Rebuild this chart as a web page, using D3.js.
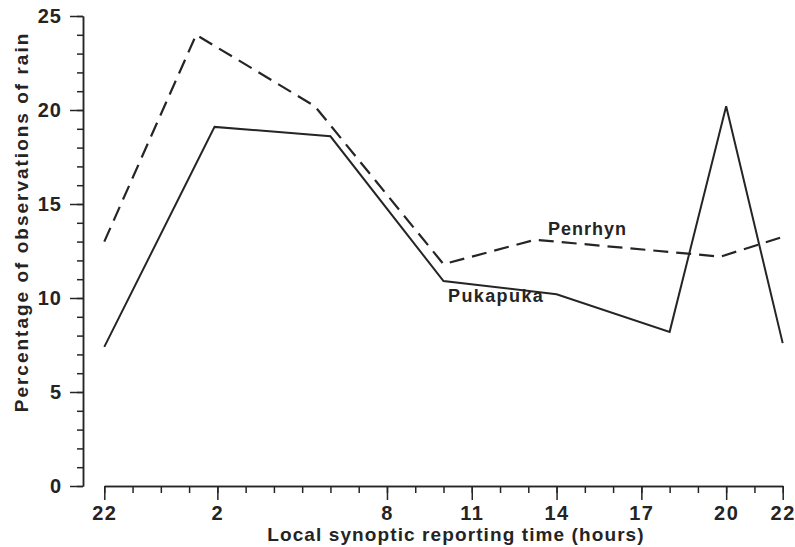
<!DOCTYPE html>
<html>
<head>
<meta charset="utf-8">
<script src="https://cdn.jsdelivr.net/npm/d3@7"></script>
<style>
  html, body { margin: 0; padding: 0; background: #fff; }
  svg { display: block; }
  text { font-family: "Liberation Sans", Arial, Helvetica, sans-serif; font-weight: bold; fill: #242424; }
</style>
</head>
<body>
<svg id="chart" width="795" height="547"></svg>
<script>
// Hours are counted on a continuous clock: 22 → 22, 2 (next day) → 26, ... 22 → 46
const majorHours = [22, 26, 32, 35, 38, 41, 44, 46];
const majorLabels = ["22", "2", "8", "11", "14", "17", "20", "22"];
const minorHours = d3.range(22, 47, 1);

const yMajor = [0, 5, 10, 15, 20, 25];
const yMinor = d3.range(0, 26, 1);

// Percentage of observations of rain, by local reporting hour
const pukapukaHours  = [22, 25.9, 30, 34, 38, 42, 44, 46];
const pukapukaValues = [7.4, 19.1, 18.6, 10.9, 10.2, 8.2, 20.2, 7.6];

const penrhynHours  = [22, 25.25, 29.45, 34, 37.25, 43.8, 46];
const penrhynValues = [13.0, 24.0, 20.2, 11.8, 13.1, 12.2, 13.25];

const svg = d3.select("#chart");
const ink = "#252525";

const x = d3.scaleLinear().domain([22, 46]).range([104.3, 782.7]);
const y = d3.scaleLinear().domain([0, 25]).range([486, 16]);

// y axis: major ticks with labels, minor ticks every unit
svg.append("g").attr("transform", "translate(83,0)")
  .call(d3.axisLeft(y).tickValues(yMinor).tickSize(6).tickSizeOuter(0).tickFormat(""));
const yAxisMajor = svg.append("g").attr("transform", "translate(83,0)")
  .call(d3.axisLeft(y).tickValues(yMajor).tickSize(13).tickSizeOuter(0).tickPadding(6).tickFormat(d3.format("d")));

// x axis: labelled major hours, minor ticks every hour
svg.append("g").attr("transform", "translate(0,486)")
  .call(d3.axisBottom(x).tickValues(minorHours).tickSize(7).tickSizeOuter(0).tickFormat(""));
const xAxisMajor = svg.append("g").attr("transform", "translate(0,486)")
  .call(d3.axisBottom(x).tickValues(majorHours).tickSize(14).tickSizeOuter(0).tickPadding(6)
    .tickFormat((d, i) => majorLabels[i]));

svg.selectAll(".domain, .tick line").attr("stroke", ink).attr("stroke-width", 1.5);
yAxisMajor.selectAll("text").attr("font-size", 20).attr("letter-spacing", 1).attr("dx", -2).style("fill", "#242424");
xAxisMajor.selectAll("text").attr("font-size", 20).attr("letter-spacing", 1.5).style("fill", "#242424");

// axis titles
svg.append("text")
  .attr("x", 456).attr("y", 541)
  .attr("text-anchor", "middle")
  .attr("font-size", 19)
  .attr("letter-spacing", 1.1)
  .text("Local synoptic reporting time (hours)");

svg.append("text")
  .attr("transform", "translate(28,222) rotate(-90)")
  .attr("text-anchor", "middle")
  .attr("font-size", 19)
  .attr("letter-spacing", 2)
  .text("Percentage of observations of rain");

// series lines
const line = d3.line().x(d => x(d[0])).y(d => y(d[1]));

svg.append("path")
  .datum(d3.zip(penrhynHours, penrhynValues))
  .attr("d", line)
  .attr("fill", "none")
  .attr("stroke", ink)
  .attr("stroke-width", 2.2)
  .attr("stroke-dasharray", "15,8")
  .attr("stroke-linejoin", "round");

svg.append("path")
  .datum(d3.zip(pukapukaHours, pukapukaValues))
  .attr("d", line)
  .attr("fill", "none")
  .attr("stroke", ink)
  .attr("stroke-width", 2)
  .attr("stroke-linejoin", "miter");

// series labels
svg.append("text")
  .attr("x", 548).attr("y", 235)
  .attr("font-size", 18)
  .attr("letter-spacing", 1)
  .text("Penrhyn");

svg.append("text")
  .attr("x", 448).attr("y", 302)
  .attr("font-size", 18)
  .attr("letter-spacing", 1.4)
  .text("Pukapuka");
</script>
</body>
</html>
